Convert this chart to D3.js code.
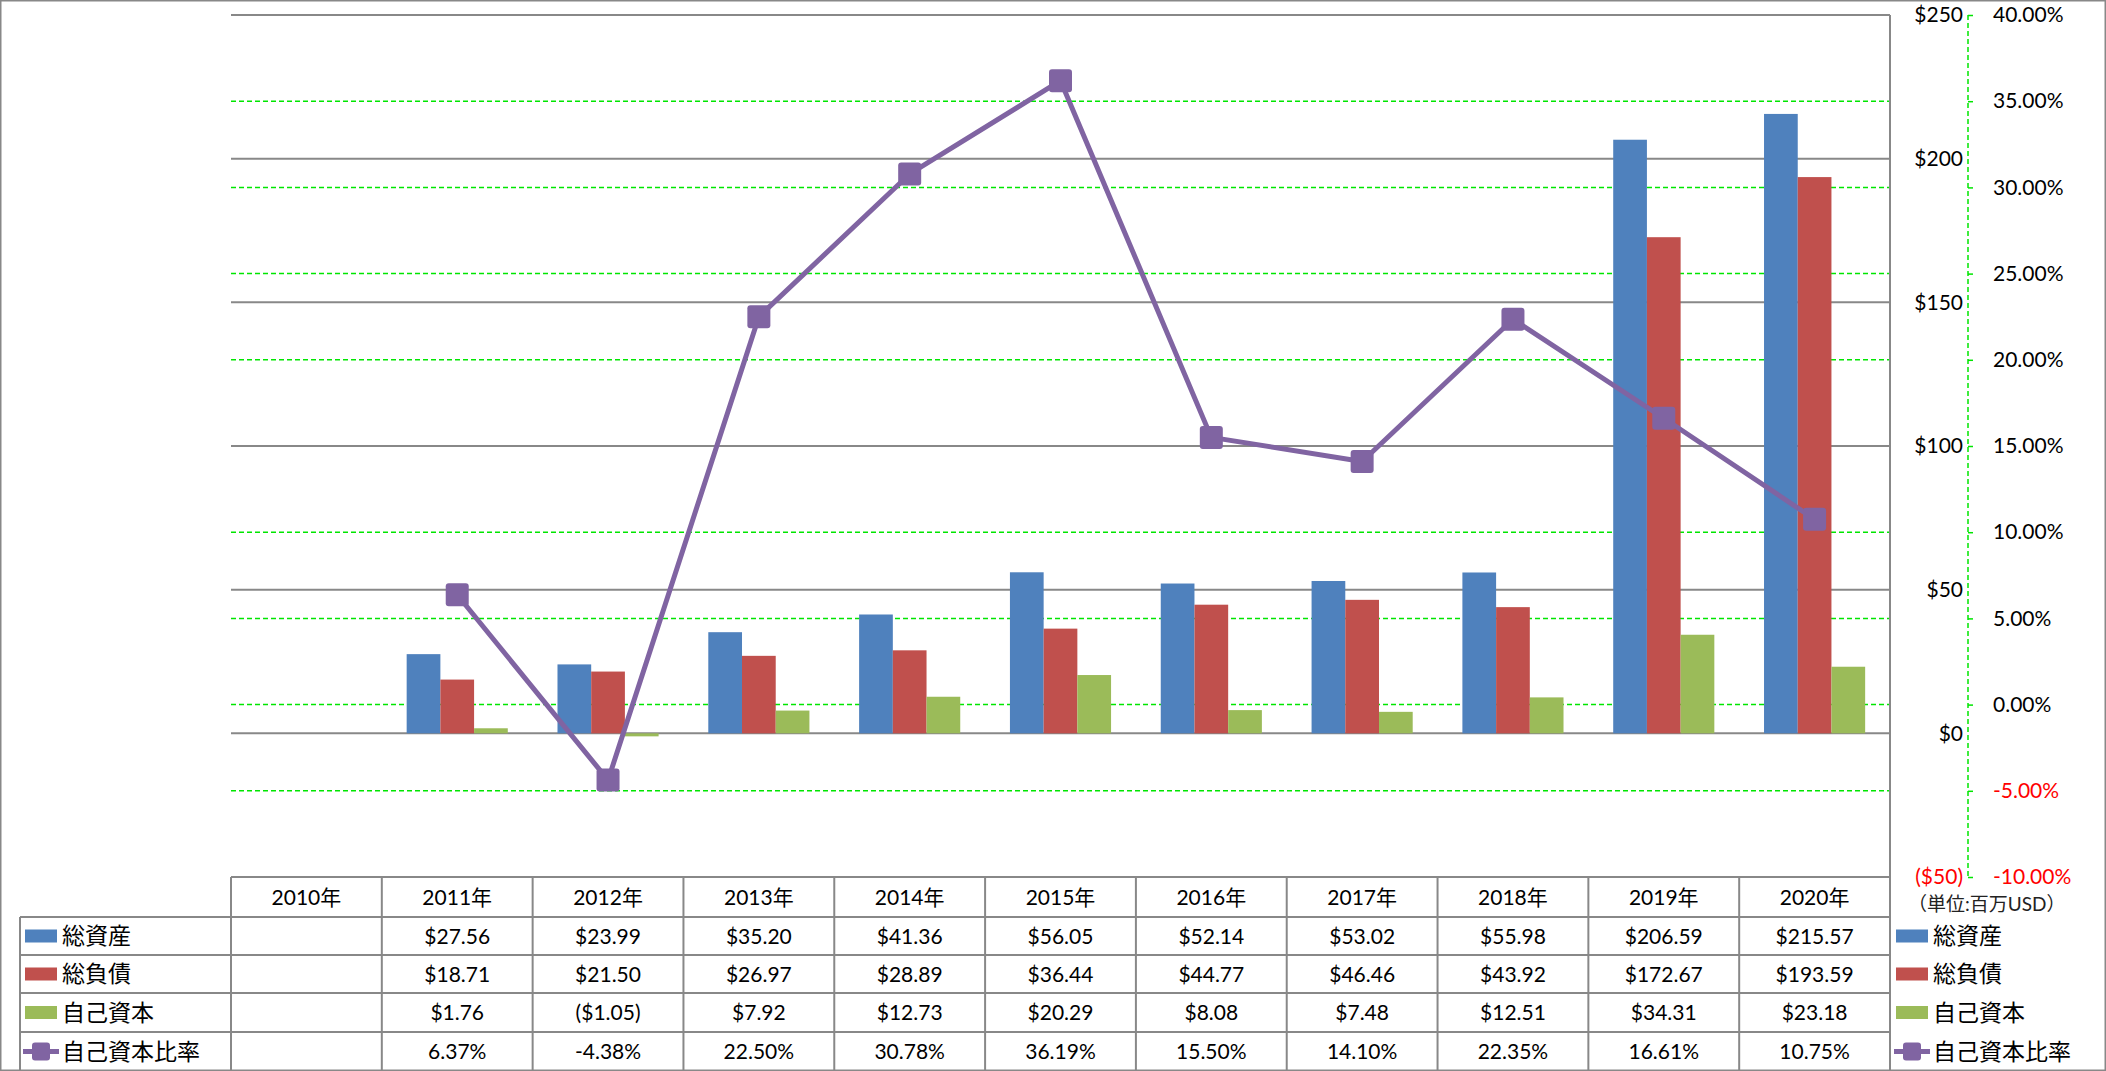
<!DOCTYPE html>
<html>
<head>
<meta charset="utf-8">
<script src="https://cdn.jsdelivr.net/npm/d3@7"></script>
<style>
  body { margin: 0; background: #fff; }
  text { font-family: Lato, "Noto Sans CJK JP", sans-serif; }
</style>
</head>
<body>
<svg id="chart" width="2106" height="1071"></svg>
<script>
const years = ["2010年", "2011年", "2012年", "2013年", "2014年", "2015年", "2016年", "2017年", "2018年", "2019年", "2020年"];
const totalAssets = [null, 27.56, 23.99, 35.20, 41.36, 56.05, 52.14, 53.02, 55.98, 206.59, 215.57];
const totalLiabilities = [null, 18.71, 21.50, 26.97, 28.89, 36.44, 44.77, 46.46, 43.92, 172.67, 193.59];
const equity = [null, 1.76, -1.05, 7.92, 12.73, 20.29, 8.08, 7.48, 12.51, 34.31, 23.18];
const equityRatio = [null, 6.37, -4.38, 22.50, 30.78, 36.19, 15.50, 14.10, 22.35, 16.61, 10.75];

const barSeries = [
  { name: "総資産", values: totalAssets, color: "#4F81BD" },
  { name: "総負債", values: totalLiabilities, color: "#C0504D" },
  { name: "自己資本", values: equity, color: "#9BBB59" }
];
const lineSeries = { name: "自己資本比率", values: equityRatio, color: "#8064A2" };

const W = 2106, H = 1071;
const plot = { left: 231, right: 1890, top: 15, bottom: 877 };
const rowH = [877, 917, 955, 993, 1032, 1071];
const gridGray = "#888888";

const svg = d3.select("#chart");
svg.append("rect").attr("width", W).attr("height", H).attr("fill", "#fff");

const x = d3.scaleBand().domain(years).range([plot.left, plot.right]);
const bw = x.bandwidth();
const barW = bw * 0.2235;
const xSeries = d3.scaleBand().domain(barSeries.map(d => d.name))
  .range([bw / 2 - barW * 1.5, bw / 2 + barW * 1.5]);

const yL = d3.scaleLinear().domain([-50, 250]).range([plot.bottom, plot.top]);
const yR = d3.scaleLinear().domain([-10, 40]).range([plot.bottom, plot.top]);

const fmtMoney = v => v < 0 ? `($${(-v).toFixed(2)})` : `$${v.toFixed(2)}`;
const fmtPct = v => `${v < 0 ? "-" : ""}${Math.abs(v).toFixed(2)}%`;

// green dashed gridlines (percent axis)
svg.append("g").selectAll("line").data(yR.ticks(10)).join("line")
  .attr("x1", plot.left).attr("x2", plot.right)
  .attr("y1", d => yR(d)).attr("y2", d => yR(d))
  .attr("stroke", "#00E600").attr("stroke-width", 1.5).attr("stroke-dasharray", "5,3");

// gray gridlines (money axis)
svg.append("g").selectAll("line").data(yL.ticks(6)).join("line")
  .attr("x1", plot.left).attr("x2", plot.right)
  .attr("y1", d => yL(d)).attr("y2", d => yL(d))
  .attr("stroke", gridGray).attr("stroke-width", 2);

// bars
const groups = svg.append("g").selectAll("g").data(barSeries).join("g")
  .attr("fill", d => d.color);
groups.selectAll("rect")
  .data(s => s.values.map((v, i) => ({ name: s.name, year: years[i], v })).filter(d => d.v !== null))
  .join("rect")
  .attr("x", d => x(d.year) + xSeries(d.name))
  .attr("width", xSeries.bandwidth())
  .attr("y", d => yL(Math.max(0, d.v)))
  .attr("height", d => Math.abs(yL(d.v) - yL(0)));

// line
const linePts = equityRatio.map((v, i) => ({ year: years[i], v })).filter(d => d.v !== null);
svg.append("path").datum(linePts)
  .attr("fill", "none").attr("stroke", lineSeries.color).attr("stroke-width", 5)
  .attr("stroke-linejoin", "round")
  .attr("d", d3.line().x(d => x(d.year) + bw / 2).y(d => yR(d.v)));
const mk = 23;
svg.append("g").selectAll("rect").data(linePts).join("rect")
  .attr("x", d => x(d.year) + bw / 2 - mk / 2)
  .attr("y", d => yR(d.v) - mk / 2)
  .attr("width", mk).attr("height", mk).attr("rx", 3)
  .attr("fill", lineSeries.color);

// plot right border
svg.append("line").attr("x1", plot.right).attr("x2", plot.right)
  .attr("y1", plot.top).attr("y2", H)
  .attr("stroke", gridGray).attr("stroke-width", 2);

// right axes
const axisX = 1968;
const gPct = svg.append("g").attr("transform", `translate(${axisX},0)`)
  .call(d3.axisRight(yR).ticks(10).tickSize(7).tickPadding(18).tickFormat(fmtPct));
gPct.selectAll("path, line").attr("stroke", "#00E600").attr("stroke-width", 1.5).attr("stroke-dasharray", "5,3");
gPct.select(".domain").attr("d", `M0,${plot.top}V${plot.bottom}`);
gPct.selectAll("text").attr("font-size", 21).attr("font-family", null)
  .style("fill", d => d < 0 ? "#FF0000" : "#000");

const gMoney = svg.append("g").attr("transform", `translate(${axisX},0)`)
  .call(d3.axisLeft(yL).ticks(6).tickSize(0).tickPadding(5)
    .tickFormat(v => v < 0 ? `($${-v})` : `$${v}`));
gMoney.select(".domain").remove();
gMoney.selectAll("text").attr("font-size", 21).attr("font-family", null)
  .style("fill", d => d < 0 ? "#FF0000" : "#000");

svg.append("text").attr("x", 1908).attr("y", 904).attr("dy", "0.35em")
  .attr("font-size", 19).attr("fill", "#222").text("（単位:百万USD）");

// data table
const tbl = svg.append("g").attr("stroke", gridGray).attr("stroke-width", 2);
tbl.append("line").attr("x1", plot.left).attr("x2", plot.right).attr("y1", rowH[0]).attr("y2", rowH[0]);
rowH.slice(1, 5).forEach(yy => tbl.append("line").attr("x1", 20).attr("x2", plot.right).attr("y1", yy).attr("y2", yy));
tbl.append("line").attr("x1", 20).attr("x2", 20).attr("y1", rowH[1]).attr("y2", H);
years.forEach(yr => tbl.append("line").attr("x1", x(yr)).attr("x2", x(yr)).attr("y1", rowH[0]).attr("y2", H));

const rowMid = i => (rowH[i] + rowH[i + 1]) / 2;
svg.append("g").selectAll("text").data(years).join("text")
  .attr("x", d => x(d) + bw / 2).attr("y", rowMid(0)).attr("dy", "0.36em")
  .attr("text-anchor", "middle").attr("font-size", 21).text(d => d);

const allRows = [...barSeries, lineSeries];
allRows.forEach((s, r) => {
  const fmt = s === lineSeries ? fmtPct : fmtMoney;
  svg.append("g").selectAll("text")
    .data(s.values.map((v, i) => ({ year: years[i], v })).filter(d => d.v !== null))
    .join("text")
    .attr("x", d => x(d.year) + bw / 2).attr("y", rowMid(r + 1)).attr("dy", "0.36em")
    .attr("text-anchor", "middle").attr("font-size", 21).text(d => fmt(d.v));
});

// legend keys (left in table, and right side)
function legendKey(g, s, x0, yc) {
  if (s === lineSeries) {
    g.append("line").attr("x1", x0 - 2).attr("x2", x0 + 34).attr("y1", yc).attr("y2", yc)
      .attr("stroke", s.color).attr("stroke-width", 5);
    g.append("rect").attr("x", x0 + 16 - 9).attr("y", yc - 9).attr("width", 18).attr("height", 18)
      .attr("rx", 3).attr("fill", s.color);
  } else {
    g.append("rect").attr("x", x0).attr("y", yc - 6.5).attr("width", 32).attr("height", 13)
      .attr("fill", s.color);
  }
}
allRows.forEach((s, r) => {
  const yc = rowMid(r + 1);
  const g = svg.append("g");
  legendKey(g, s, 25, yc);
  g.append("text").attr("x", 62).attr("y", yc).attr("dy", "0.36em").attr("font-size", 23).text(s.name);
  legendKey(g, s, 1896, yc);
  g.append("text").attr("x", 1933).attr("y", yc).attr("dy", "0.36em").attr("font-size", 23).text(s.name);
});

// outer frame
svg.append("rect").attr("x", 0.75).attr("y", 0.75).attr("width", W - 1.5).attr("height", H - 1.5)
  .attr("fill", "none").attr("stroke", gridGray).attr("stroke-width", 1.5);
</script>
</body>
</html>
